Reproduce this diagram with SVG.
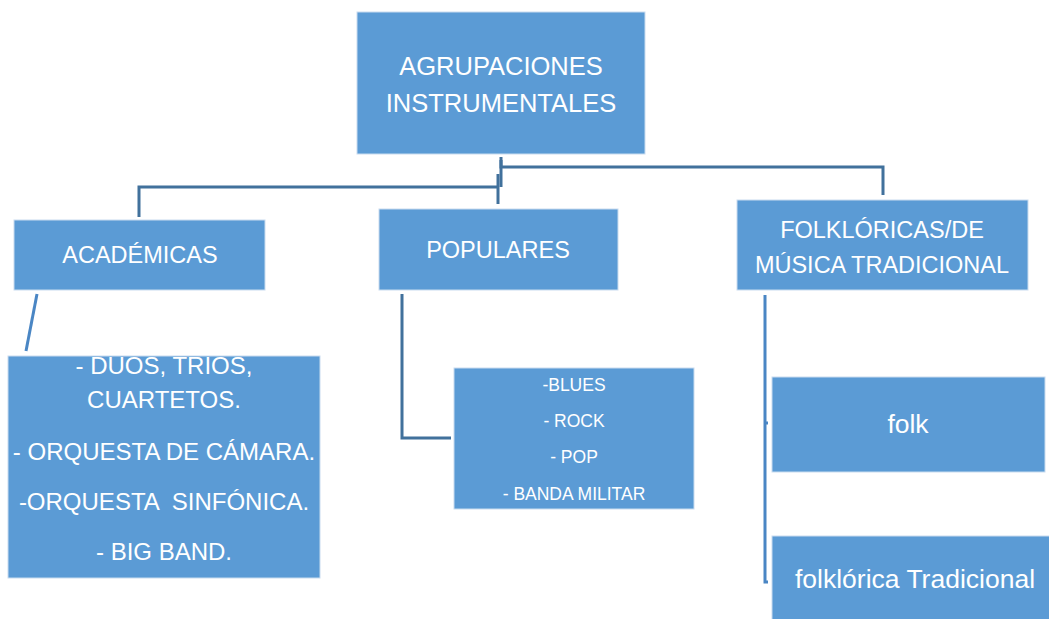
<svg xmlns="http://www.w3.org/2000/svg" width="1049" height="619" viewBox="0 0 1049 619">
<style>
.box{fill:#5B9BD5;stroke:#C9DCEF;stroke-width:1}
.t{font-family:"Liberation Sans",Arial,sans-serif;fill:#FFFFFF;text-anchor:middle}
.c{fill:none;stroke:#41719C;stroke-width:3;stroke-linecap:butt}
.c2{fill:none;stroke:#4A86C4;stroke-width:3}
</style>
<rect width="1049" height="619" fill="#FFFFFF"/>
<g id="connectors">
<polyline class="c" points="501,157 501,167 883,167 883,195"/>
<polyline class="c" points="501,160 501,187"/>
<polyline class="c" points="139,217 139,187 498,187"/>
<polyline class="c" points="498,174 498,204"/>
<polyline class="c" points="402,294 402,438 451,438"/>
<line class="c2" x1="37" y1="294" x2="26" y2="351"/>
<polyline class="c2" points="765,295 765,582 768,582"/>
<line class="c2" x1="765" y1="423" x2="768" y2="423"/>
</g>
<g id="root">
<rect class="box" x="357" y="12" width="288" height="142"/>
<text class="t" font-size="25.5"><tspan x="501" y="75">AGRUPACIONES</tspan><tspan x="501" y="112">INSTRUMENTALES</tspan></text>
</g>
<g id="academicas">
<rect class="box" x="14" y="220" width="251" height="70"/>
<text class="t" font-size="23.5" x="140" y="263">ACADÉMICAS</text>
</g>
<g id="populares">
<rect class="box" x="379" y="209" width="239" height="81"/>
<text class="t" font-size="23.5" x="498" y="258">POPULARES</text>
</g>
<g id="folkloricas">
<rect class="box" x="737" y="200" width="291" height="90"/>
<text class="t" font-size="23.5"><tspan x="882" y="238">FOLKLÓRICAS/DE</tspan><tspan x="882" y="273">MÚSICA TRADICIONAL</tspan></text>
</g>
<g id="academicas-list">
<rect class="box" x="8" y="356" width="312" height="222"/>
<text class="t" font-size="24"><tspan x="164" y="374">- DUOS, TRIOS,</tspan><tspan x="164" y="408">CUARTETOS.</tspan><tspan x="164" y="460">- ORQUESTA DE CÁMARA.</tspan><tspan x="164" y="510" xml:space="preserve">-ORQUESTA  SINFÓNICA.</tspan><tspan x="164" y="560">- BIG BAND.</tspan></text>
</g>
<g id="populares-list">
<rect class="box" x="454" y="368" width="240" height="141"/>
<text class="t" font-size="17.5"><tspan x="574" y="391">-BLUES</tspan><tspan x="574" y="427">- ROCK</tspan><tspan x="574" y="463">- POP</tspan><tspan x="574" y="500">- BANDA MILITAR</tspan></text>
</g>
<g id="folk">
<rect class="box" x="772" y="377" width="273" height="95"/>
<text class="t" font-size="26.5" x="908" y="433">folk</text>
</g>
<g id="folklorica-tradicional">
<rect class="box" x="772" y="536" width="290" height="100"/>
<text class="t" font-size="26.5" x="915" y="588">folklórica Tradicional</text>
</g>
</svg>
